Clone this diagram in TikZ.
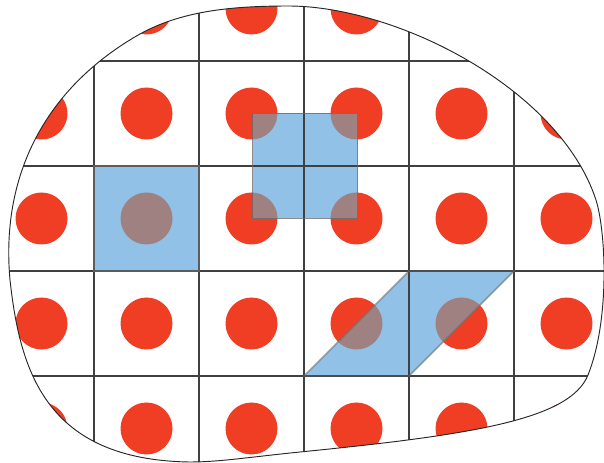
\documentclass[tikz,border=0pt]{standalone}
\begin{document}
\begin{tikzpicture}[x=0.75pt,y=-0.75pt,
  gridline/.style={draw=black!75,line width=1.3pt},
  dot/.style={fill=dotred},
  mdot/.style={fill=mauve},
  cellfill/.style={fill=cellblue},
  cellborder/.style={draw=black!60,draw opacity=0.75,line width=1.1pt},
  outline/.style={draw=black!85,line width=0.7pt}]
\definecolor{dotred}{RGB}{240,62,36}
\definecolor{cellblue}{RGB}{145,193,230}
\definecolor{mauve}{RGB}{160,129,130}
\useasboundingbox (0,0) rectangle (604,463);
\def\blob{(290,6) .. controls (400,7) and (560,90) .. (596,200)
  .. controls (606,232) and (610,320) .. (588,375)
  .. controls (570,420) and (470,435) .. (300,452)
  .. controls (250,457) and (220,462) .. (190,462)
  .. controls (45,460) and (20,370) .. (10,280)
  .. controls (0,170) and (50,85) .. (140,34)
  .. controls (185,9) and (240,6) .. (290,6) -- cycle}
\def\sqA{(94,166) rectangle (199,271)}
\def\sqB{(252.5,113.5) rectangle (357.5,218.5)}
\def\para{(304,376) -- (409,271) -- (514,271) -- (409,376) -- cycle}
\begin{scope}
\clip \blob;
\foreach \i in {-1,...,5}{
  \foreach \j in {-1,...,4}{
    \fill[dot] (146.5+105*\i,113.5+105*\j) circle (26);
  }
}
\foreach \s in {\sqA,\sqB,\para}{
  \begin{scope}
    \clip \s;
    \path[cellfill] \s;
    \foreach \i in {0,...,4}{
      \foreach \j in {0,...,3}{
        \fill[mdot] (146.5+105*\i,113.5+105*\j) circle (26);
      }
    }
  \end{scope}
}
\foreach \x in {94,199,304,409,514}{
  \draw[gridline] (\x,-20) -- (\x,480);
}
\foreach \y in {61,166,271,376}{
  \draw[gridline] (-20,\y) -- (630,\y);
}
\end{scope}
\path[cellborder] \sqA;
\path[cellborder] \sqB;
\path[cellborder,draw opacity=0.55] \para;
\path[outline] \blob;
\end{tikzpicture}
\end{document}
